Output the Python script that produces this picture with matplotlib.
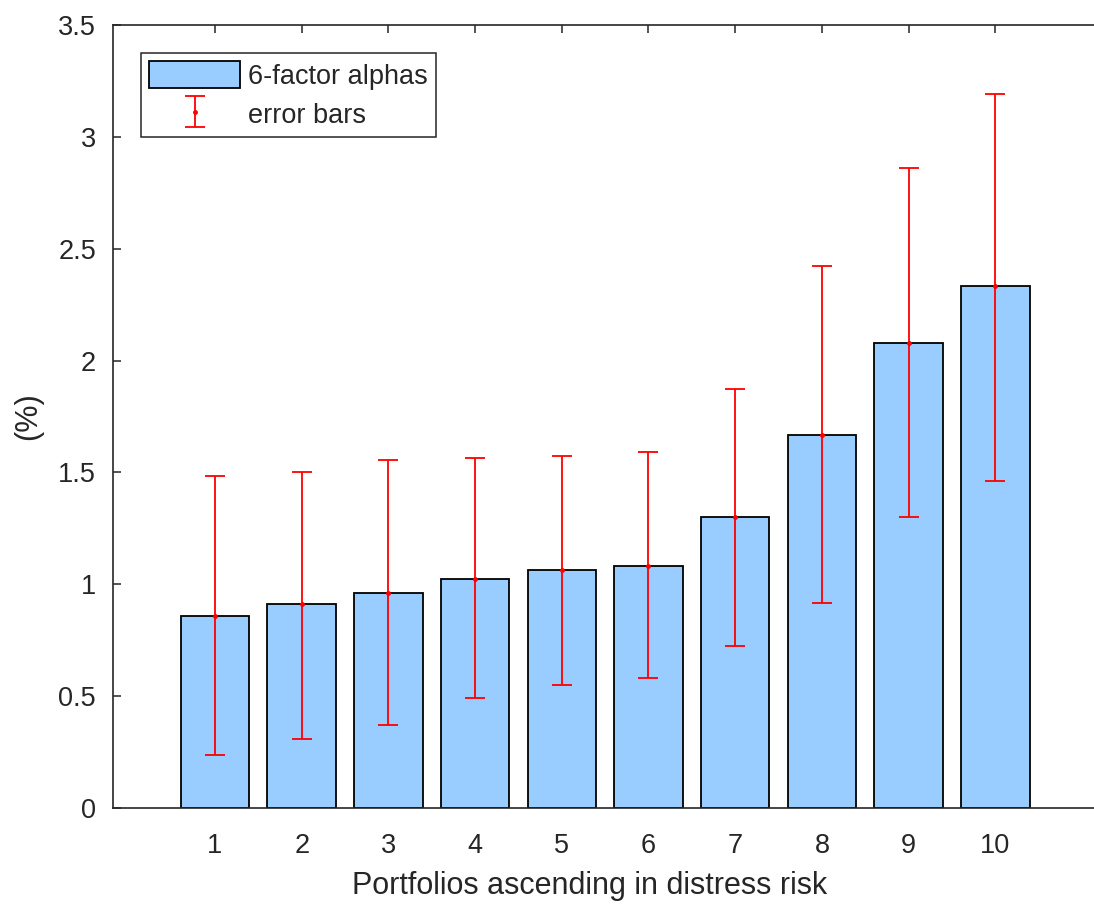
import matplotlib
matplotlib.use("Agg")
import matplotlib.pyplot as plt
from matplotlib.legend_handler import HandlerErrorbar
from matplotlib.container import ErrorbarContainer
import numpy as np

portfolios = [1, 2, 3, 4, 5, 6, 7, 8, 9, 10]
alphas = [0.860, 0.911, 0.961, 1.024, 1.064, 1.082, 1.301, 1.667, 2.079, 2.333]
err_upper = [1.484, 1.503, 1.556, 1.565, 1.574, 1.591, 1.873, 2.423, 2.861, 3.192]
err_lower = [0.236, 0.307, 0.371, 0.492, 0.550, 0.581, 0.724, 0.916, 1.301, 1.462]
yticks = [0, 0.5, 1, 1.5, 2, 2.5, 3, 3.5]
ytick_labels = ["0", "0.5", "1", "1.5", "2", "2.5", "3", "3.5"]

plt.rcParams['font.family'] = ['Liberation Sans', 'DejaVu Sans']
txt = '#262626'

fig = plt.figure(figsize=(10.94, 9.08), dpi=100)
ax = fig.add_axes([0.103, 0.1101, 0.9098, 0.8624])

x = np.array(portfolios)
a = np.array(alphas)
bars = ax.bar(x, a, width=0.79, color='#99CCFF', edgecolor='black', linewidth=1.3,
              label='6-factor alphas', zorder=2)
yerr = np.vstack([a - np.array(err_lower), np.array(err_upper) - a])
eb = ax.errorbar(x, a, yerr=yerr, fmt='.', color='#FF0000', ecolor='#FF0000',
                 markersize=5, elinewidth=1.3, capsize=7.5, capthick=1.3,
                 label='error bars', zorder=3)

ax.set_xlim(-0.18, 11.3)
ax.set_ylim(0, 3.5)
ax.set_xticks(portfolios)
ax.set_xticklabels([str(p) for p in portfolios])
ax.set_yticks(yticks)
ax.set_yticklabels(ytick_labels)
ax.tick_params(direction='in', top=True, right=False, length=6, width=1.1,
               colors=txt, labelsize=19.5)
ax.tick_params(axis='y', pad=12)
ax.tick_params(axis='x', pad=18)
for s in ax.spines.values():
    s.set_color(txt)
    s.set_linewidth(1.2)

ax.set_xlabel('Portfolios ascending in distress risk', fontsize=22, color=txt)
ax.xaxis.set_label_coords(0.479, -0.081)
ax.set_ylabel('(%)', fontsize=22, color=txt, labelpad=10.5)

leg = ax.legend(handles=[bars, eb], labels=['6-factor alphas', 'error bars'],
                loc='upper left', bbox_to_anchor=(0.0281, 0.9638), fancybox=False,
                edgecolor=txt, framealpha=1, fontsize=19.5, handlelength=3.38,
                handleheight=1.12, handletextpad=0.28, borderpad=0.3,
                labelspacing=0.4, borderaxespad=0,
                handler_map={ErrorbarContainer: HandlerErrorbar(xerr_size=0.36, yerr_size=0.57)})
leg.get_frame().set_linewidth(1.1)
for t in leg.get_texts():
    t.set_color(txt)

fig.savefig('out.png', dpi=100)
